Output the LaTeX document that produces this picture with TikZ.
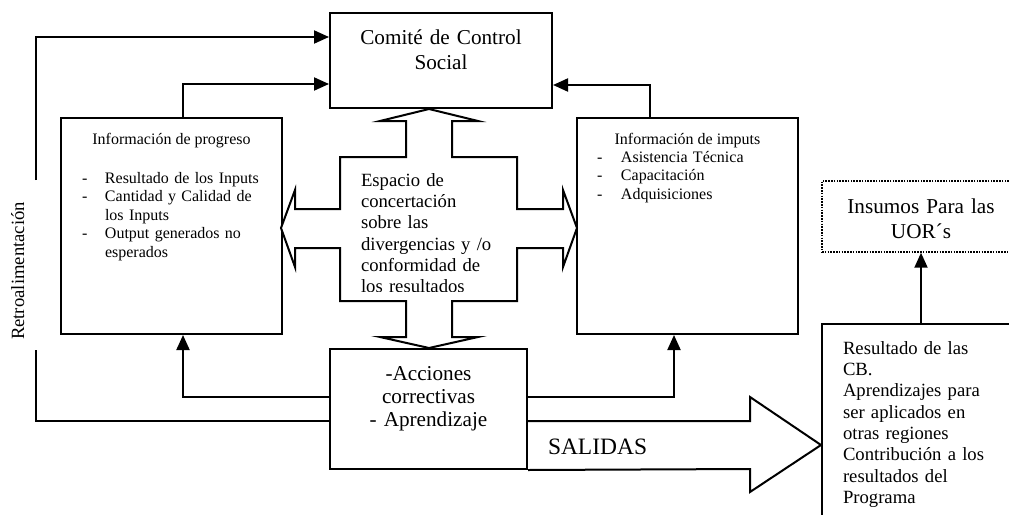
\documentclass[tikz,border=0pt]{standalone}
\usepackage{fontspec}
\setmainfont{Liberation Serif}
\usetikzlibrary{arrows.meta}
\begin{document}
\begin{tikzpicture}[x=0.75pt,y=-0.75pt,
  conn/.style={line width=1.5pt, line join=miter},
  arr/.style={conn, -{Triangle[length=11.25pt,width=9.75pt]}},
  box/.style={draw, line width=1.5pt, inner sep=0pt, fill=white},
  dotbox/.style={draw, line width=1.1pt, dash pattern=on 1.2pt off 0.9pt, inner sep=0pt},
  bigfont/.style={font=\fontsize{15.9pt}{18.75pt}\selectfont},
  accfont/.style={font=\fontsize{15.9pt}{17.6pt}\selectfont},
  midfont/.style={font=\fontsize{14pt}{16pt}\selectfont},
  smallfont/.style={font=\fontsize{12pt}{13.9pt}\selectfont},
  txt/.style={inner sep=0pt, outer sep=0pt}
]
\useasboundingbox (0,0) rectangle (1009,514);
\clip (0,0) rectangle (1009,514);

% boxes
\node[box, minimum width=166.5pt, minimum height=71.25pt] (comite) at (441,60.5) {};
\node[box, minimum width=165.75pt, minimum height=162pt] (prog) at (171.5,226) {};
\node[box, minimum width=165.75pt, minimum height=162pt] (imp) at (687.5,226) {};
\node[box, minimum width=147.75pt, minimum height=90pt] (acc) at (428.5,409) {};
\node[dotbox, minimum width=148.5pt, minimum height=53.25pt] (insumos) at (921,216.5) {};
\node[box, minimum width=148.5pt, minimum height=154.5pt] (res) at (921,427) {};

% central four-way arrow
\draw[conn, fill=white] (429,109) -- (478,121) -- (452,121) -- (452,157) -- (517,157) -- (517,209)
  -- (563,209) -- (563,190) -- (577,228) -- (563,267) -- (563,248) -- (517,248) -- (517,301)
  -- (452,301) -- (452,337) -- (478,337) -- (429,348) -- (380,337) -- (406,337) -- (406,301)
  -- (340,301) -- (340,248) -- (295,248) -- (295,267) -- (281,228) -- (295,190) -- (295,209)
  -- (340,209) -- (340,157) -- (406,157) -- (406,121) -- (380,121) -- cycle;

% SALIDAS arrow
\coordinate (sTop) at (527,421);
\coordinate (sTip) at (822,445);
\draw[conn, fill=white] (sTop -| acc.east) -- (750,421) -- (750,397) -- (sTip -| res.west)
  -- (750,492) -- (750,469) -- (acc.south east);

% texts
\node[txt, bigfont, text width=165pt, align=center, anchor=base] (tcomite) at (441,44)
  {Comité de Control\\Social};
\node[txt, bigfont, text width=148pt, align=center, anchor=base] (tinsumos) at (921,213)
  {Insumos Para las\\UOR´s};
\node[txt, accfont, text width=147pt, align=center, anchor=base] (tacc) at (428.5,380)
  {-Acciones\\correctivas\\- Aprendizaje};
\node[txt, font=\fontsize{17.6pt}{20pt}\selectfont, anchor=base west] (tsal) at (548,454) {SALIDAS};
\node[txt, midfont, rotate=90, anchor=base] (tretro) at (24,271) {Retroalimentación};

\node[txt, smallfont, anchor=base] (tprog) at (171.5,144) {Información de progreso};
\node[txt, smallfont, text width=160pt, align=left, anchor=base west] (lprog) at (82,183)
  {\makebox[17.25pt][l]{-}Resultado de los Inputs\\
   \makebox[17.25pt][l]{-}Cantidad y Calidad de\\
   \hspace*{17.25pt}los Inputs\\
   \makebox[17.25pt][l]{-}Output generados no\\
   \hspace*{17.25pt}esperados};
\node[txt, smallfont, anchor=base] (timp) at (687.5,144) {Información de imputs};
\node[txt, smallfont, text width=160pt, align=left, anchor=base west] (limp) at (597,162)
  {\makebox[18pt][l]{-}Asistencia Técnica\\
   \makebox[18pt][l]{-}Capacitación\\
   \makebox[18pt][l]{-}Adquisiciones};

\begin{scope}
  \clip (340,157) rectangle (517,291.5);
  \node[txt, midfont, text width=140pt, align=left, anchor=base west] (tesp) at (361,186)
    {Espacio de\\concertación\\sobre las\\divergencias y /o\\conformidad de\\los resultados};
\end{scope}
\begin{scope}
  \clip (823,325) rectangle (1009,507);
  \node[txt, midfont, text width=150pt, align=left, anchor=base west] (tres) at (843,354)
    {Resultado de las\\CB.\\Aprendizajes para\\ser aplicados en\\otras regiones\\Contribución a los\\resultados del\\Programa};
\end{scope}

% connectors
\coordinate (fbBot) at (36,421);
\coordinate (fbLo) at (36,350);
\coordinate (fbHi) at (36,180);
\coordinate (fbTop) at (36,37);
\draw[conn] (fbBot -| acc.west) -- (fbBot) -- (fbLo);
\draw[arr] (fbHi) -- (fbTop) -- (fbTop -| comite.west);

\coordinate (pTop) at (183,84);
\draw[arr] (pTop |- prog.north) -- (pTop) -- (pTop -| comite.west);
\coordinate (pBot) at (183,397);
\draw[arr] (pBot -| acc.west) -- (pBot) -- (pBot |- prog.south);
\coordinate (qTop) at (650,85);
\draw[arr] (qTop |- imp.north) -- (qTop) -- (qTop -| comite.east);
\coordinate (qBot) at (674,397);
\draw[arr] (qBot -| acc.east) -- (qBot) -- (qBot |- imp.south);
\draw[arr] (res.north) -- (insumos.south);
\end{tikzpicture}
\end{document}
